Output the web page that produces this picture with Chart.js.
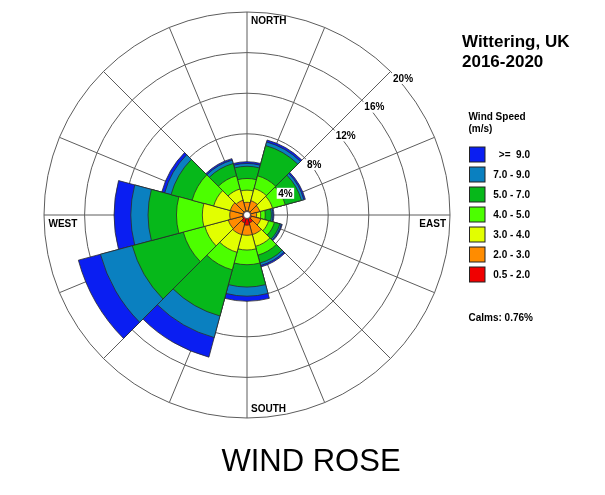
<!DOCTYPE html>
<html>
<head>
<meta charset="utf-8">
<script src="https://cdn.jsdelivr.net/npm/chart.js@4/dist/chart.umd.min.js"></script>
<style>
  html, body { margin: 0; padding: 0; background: #fff; }
  #wrap { width: 605px; height: 495px; position: relative; }
</style>
</head>
<body>
<div id="wrap"><canvas id="rose"></canvas></div>
<script>
// 12 direction sectors (30° each), clockwise from north
const sectors = ['0°', '30°', '60°', '90°', '120°', '150°', '180°', '210°', '240°', '270°', '300°', '330°'];

// Frequency of occurrence (%) per wind-speed class for each sector
const speed05to2 = [0.40, 0.40, 0.40, 0.35, 0.45, 0.80, 1.00, 0.80, 0.50, 0.40, 0.40, 0.40];
const speed2to3  = [0.85, 1.05, 0.90, 0.60, 0.95, 1.20, 1.00, 1.20, 1.40, 1.30, 1.30, 1.10];
const speed3to4  = [1.20, 1.25, 1.30, 0.40, 0.80, 1.20, 1.45, 1.80, 2.40, 2.70, 1.70, 1.15];
const speed4to5  = [1.15, 1.30, 1.30, 0.45, 0.60, 0.90, 1.45, 1.80, 2.20, 2.55, 2.20, 1.35];
const speed5to7  = [1.20, 3.08, 1.65, 0.60, 0.55, 0.80, 2.20, 4.70, 5.20, 2.80, 2.15, 1.25];
const speed7to9  = [0.28, 0.37, 0.25, 0.15, 0.15, 0.25, 0.90, 2.20, 3.25, 1.70, 0.65, 0.35];
const speed9plus = [0.17, 0.20, 0.15, 0.10, 0.10, 0.15, 0.50, 2.00, 2.25, 1.65, 0.30, 0.15];

const speedClasses = ['0.5 - 2.0', '2.0 - 3.0', '3.0 - 4.0', '4.0 - 5.0', '5.0 - 7.0', '7.0 - 9.0', '>=  9.0'];
const ringTicks = [4, 8, 12, 16, 20];
const compassPoints = ['N', 'NNE', 'NE', 'ENE', 'E', 'ESE', 'SE', 'SSE', 'S', 'SSW', 'SW', 'WSW', 'W', 'WNW', 'NW', 'NNW'];
const calmsPct = 0.76;
const station = 'Wittering, UK';
const period = '2016-2020';

const classColors = ['#F00000', '#FF8C00', '#E2FF00', '#4CFF00', '#06B81A', '#0A80C0', '#0A1EF2'];
const FONT = '"Liberation Sans", Arial, Helvetica, sans-serif';

// Stack the classes: each ring reaches the running total of the classes below it
const classSeries = [speed05to2, speed2to3, speed3to4, speed4to5, speed5to7, speed7to9, speed9plus];
let running = sectors.map(() => 0);
const datasets = classSeries.map((series, k) => {
  running = running.map((v, i) => v + series[i]);
  return {
    label: speedClasses[k],
    data: running.slice(),
    backgroundColor: classColors[k],
    borderColor: '#2b2b2b',
    borderWidth: 0.8,
    rAxisID: 'rData'
  };
});

const roseDecor = {
  id: 'roseDecor',
  afterDatasetsDraw(chart) {
    const s = chart.scales.r;
    const ctx = chart.ctx;
    ctx.save();
    // calm centre
    ctx.beginPath();
    ctx.arc(s.xCenter, s.yCenter, 3.5, 0, Math.PI * 2);
    ctx.fillStyle = '#fff';
    ctx.fill();
    ctx.lineWidth = 0.8;
    ctx.strokeStyle = '#333';
    ctx.stroke();

    // ring percentages along the NE spoke
    ctx.font = 'bold 10px ' + FONT;
    ctx.textAlign = 'left';
    ctx.textBaseline = 'top';
    ringTicks.forEach(v => {
      const p = s.getPointPositionForValue(2, v);
      const txt = v + '%';
      const w = ctx.measureText(txt).width;
      ctx.fillStyle = '#fff';
      ctx.fillRect(p.x + 1, p.y + 1.5, w + 3, 11);
      ctx.fillStyle = '#000';
      ctx.fillText(txt, p.x + 2.5, p.y + 2.5);
    });

    // cardinal labels just inside the outer ring
    ctx.textBaseline = 'alphabetic';
    const top = s.getPointPositionForValue(0, s.max);
    const bottom = s.getPointPositionForValue(8, s.max);
    const west = s.getPointPositionForValue(12, s.max);
    const east = s.getPointPositionForValue(4, s.max);
    ctx.fillText('NORTH', top.x + 4, top.y + 11.5);
    ctx.fillText('SOUTH', bottom.x + 4, bottom.y - 6);
    ctx.fillText('WEST', west.x + 4.5, west.y + 12);
    ctx.textAlign = 'right';
    ctx.fillText('EAST', east.x - 4, east.y + 12);
    ctx.restore();
  },
  afterDraw(chart) {
    const ctx = chart.ctx;
    ctx.save();
    ctx.fillStyle = '#000';
    ctx.textAlign = 'left';
    ctx.textBaseline = 'alphabetic';
    ctx.font = 'bold 17px ' + FONT;
    ctx.fillText(station, 462, 47);
    ctx.fillText(period, 462, 66.5);

    ctx.font = 'bold 10px ' + FONT;
    ctx.fillText('Wind Speed', 468.5, 119.5);
    ctx.fillText('(m/s)', 468.5, 131.5);

    // legend, strongest class first
    for (let i = 0; i < speedClasses.length; i++) {
      const k = speedClasses.length - 1 - i;
      const y = 147 + i * 20;
      ctx.fillStyle = classColors[k];
      ctx.fillRect(469.5, y, 15.5, 15);
      ctx.lineWidth = 1;
      ctx.strokeStyle = '#222';
      ctx.strokeRect(469.5, y, 15.5, 15);
      ctx.fillStyle = '#000';
      ctx.textAlign = 'right';
      ctx.textBaseline = 'middle';
      ctx.fillText(speedClasses[k], 530, y + 8);
    }
    ctx.textAlign = 'left';
    ctx.textBaseline = 'alphabetic';
    ctx.fillText('Calms: ' + calmsPct.toFixed(2) + '%', 468.5, 321);

    ctx.font = '31px ' + FONT;
    ctx.textAlign = 'center';
    ctx.fillText('WIND ROSE', 311, 471);
    ctx.restore();
  }
};

new Chart(document.getElementById('rose'), {
  type: 'polarArea',
  data: { labels: sectors, datasets },
  options: {
    responsive: true,
    maintainAspectRatio: false,
    animation: false,
    layout: { padding: { left: 44, top: 12, right: 155, bottom: 77 } },
    plugins: { legend: { display: false }, tooltip: { enabled: false } },
    scales: {
      r: {
        type: 'radialLinear',
        min: 0,
        max: 20,
        startAngle: 0,
        labels: compassPoints,
        ticks: { display: false, stepSize: 4 },
        grid: { display: true, circular: true, color: '#5c5c5c', lineWidth: 1 },
        angleLines: { display: true, color: '#5c5c5c', lineWidth: 1 },
        pointLabels: { display: false }
      },
      rData: {
        type: 'radialLinear',
        axis: 'r',
        min: 0,
        max: 20,
        startAngle: -15,
        ticks: { display: false, stepSize: 4 },
        grid: { display: false },
        angleLines: { display: false },
        pointLabels: { display: false }
      }
    }
  },
  plugins: [roseDecor]
});
</script>
</body>
</html>
